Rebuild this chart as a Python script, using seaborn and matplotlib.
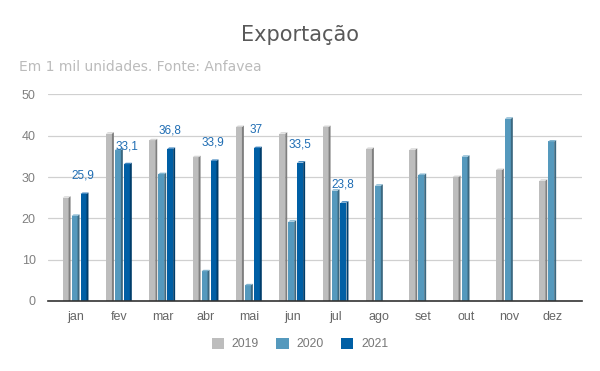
import numpy as np
import pandas as pd
import matplotlib
matplotlib.use('Agg')
import matplotlib.pyplot as plt
from matplotlib.patches import Polygon, Patch
import seaborn as sns

# dados (mil unidades)
meses = ['jan', 'fev', 'mar', 'abr', 'mai', 'jun', 'jul', 'ago', 'set', 'out', 'nov', 'dez']
exp_2019 = [25.0, 40.5, 38.9, 34.8, 42.1, 40.5, 42.1, 36.8, 36.6, 30.0, 31.7, 29.1]
exp_2020 = [20.6, 36.5, 30.7, 7.2, 3.8, 19.2, 26.7, 27.9, 30.5, 34.9, 44.1, 38.6]
exp_2021 = [25.9, 33.1, 36.8, 33.9, 37.0, 33.5, 23.8]
anos = ['2019', '2020', '2021']

cores = ['#bdbdbd', '#5599bd', '#005fa5']
laterais = ['#7f7f7f', '#3b6880', '#003d6b']
topos = ['#d6d6d6', '#82b5d0', '#3a82bd']

vals_2021 = exp_2021 + [np.nan] * (len(meses) - len(exp_2021))
df = pd.DataFrame({
    'mes': meses * 3,
    'ano': [a for a in anos for _ in meses],
    'valor': exp_2019 + exp_2020 + vals_2021,
})

sns.set_style('white')
plt.rcParams['font.family'] = ['Liberation Sans', 'DejaVu Sans']

fig = plt.figure(figsize=(6, 3.71), dpi=100)
ax = fig.add_axes([0.0805, 0.1887, 0.889, 0.557])

sns.barplot(data=df, x='mes', y='valor', hue='ano', hue_order=anos, palette=cores,
            width=0.62, gap=0, errorbar=None, legend=False, saturation=1,
            linewidth=0, ax=ax)

# efeito 3D simples: face lateral e topo
dz = 0.35
for i, cont in enumerate(ax.containers):
    for bar in cont:
        h = bar.get_height()
        if np.isnan(h):
            continue
        x = bar.get_x()
        w = bar.get_width()
        fw = w * 0.67
        sw = w * 0.89
        bar.set_width(fw)
        ax.add_patch(Polygon([(x + fw, 0), (x + fw, h), (x + sw, h + dz), (x + sw, 0)],
                             closed=True, facecolor=laterais[i], edgecolor='none', zorder=3))
        ax.add_patch(Polygon([(x, h), (x + fw, h), (x + sw, h + dz), (x + sw - fw, h + dz)],
                             closed=True, facecolor=topos[i], edgecolor='none', zorder=3))
        if anos[i] == '2021':
            txt = '{:g}'.format(h).replace('.', ',')
            ax.annotate(txt, (x + w * 0.3, h), xytext=(0, 13), textcoords='offset points',
                        ha='center', va='center', fontsize=8.5, color='#1f6db3', zorder=5)

ax.set_xlim(-0.64, 11.67)
ax.set_ylim(0, 50)
ax.set_yticks(range(0, 51, 10))
ax.set_xlabel('')
ax.set_ylabel('')
ax.yaxis.grid(True, color='#d0d0d0', lw=0.9)
ax.set_axisbelow(True)
for s in ['left', 'right', 'top']:
    ax.spines[s].set_visible(False)
ax.spines['bottom'].set_color('#333333')
ax.spines['bottom'].set_linewidth(1.2)
ax.spines['bottom'].set_zorder(6)
ax.tick_params(axis='y', length=0, pad=9, labelsize=9, labelcolor='#808080')
ax.tick_params(axis='x', length=0, pad=7, labelsize=9, labelcolor='#666666')

fig.text(0.5, 1 - 35 / 371, 'Exportação', ha='center', va='center',
         fontsize=15, color='#595959', family='DejaVu Sans')
fig.text(19 / 600, 1 - 67 / 371, 'Em 1 mil unidades. Fonte: Anfavea', ha='left',
         va='center', fontsize=10, color='#bbbbbb', family='DejaVu Sans')

handles = [Patch(facecolor=c, edgecolor='none') for c in cores]
fig.legend(handles, anos, loc='center', bbox_to_anchor=(0.5, 1 - 344 / 371), ncol=3,
           frameon=False, handlelength=1.0, handleheight=1.0, columnspacing=1.45,
           handletextpad=0.65, fontsize=8.7, labelcolor='#777777')

fig.savefig('out.png', dpi=100, facecolor='white')
